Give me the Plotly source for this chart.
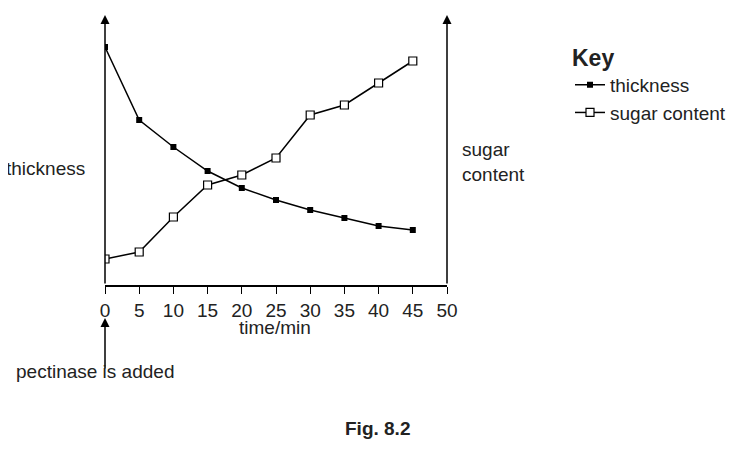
import plotly.graph_objects as go

time = [0, 5, 10, 15, 20, 25, 30, 35, 40, 45]
thickness = [238, 165, 138, 114, 97, 85, 75, 67, 59, 55]
sugar = [26, 33, 68, 100, 110, 127, 170, 180, 202, 224]
xticks = [0, 5, 10, 15, 20, 25, 30, 35, 40, 45, 50]

D = 8  # page body offset
L, R, T, B = 105 - D, 447 - D, 15 - D, 285 - D
W, H = 745, 472
def px(x): return (x - D - L) / (R - L)
def py(y): return (B - (y - D)) / (B - T)

fig = go.Figure()
fig.add_trace(go.Scatter(x=time, y=thickness, name="thickness", mode="lines+markers",
    line=dict(color="black", width=1.5), marker=dict(symbol="square", size=6, color="black")))
fig.add_trace(go.Scatter(x=time, y=sugar, name="sugar content", mode="lines+markers",
    line=dict(color="black", width=1.5),
    marker=dict(symbol="square", size=8, color="white", line=dict(color="black", width=1.2))))

font = dict(family="Liberation Sans, Arial", size=19, color="#222")
ann = []
for xv in (0, 50):
    ann.append(dict(x=xv, y=270, xref="x", yref="y", ax=0, ay=270, showarrow=True,
                    arrowhead=2, arrowsize=1.2, arrowwidth=1.5, arrowcolor="black", text=""))
ann.append(dict(x=px(105), y=py(318), xref="paper", yref="paper", ax=0, ay=52, showarrow=True,
                arrowhead=2, arrowsize=1.2, arrowwidth=1.5, arrowcolor="black", text=""))
def txt(t, x, y, **k):
    ann.append(dict(text=t, x=px(x), y=py(y), xref="paper", yref="paper", showarrow=False,
                    font=font, **k))
txt("thickness", 4, 168, xanchor="left")
txt("sugar<br>content", 460, 162, xanchor="left", align="left")
txt("time/min", 275, 340)
txt("pectinase is added", 14, 384, xanchor="left")
txt("<b>Fig. 8.2</b>", 412, 441)
fig.update_layout(annotations=ann)

fig.update_layout(
    width=W, height=H, margin=dict(l=L, r=W - R, t=T, b=H - B),
    paper_bgcolor="white", plot_bgcolor="white", font=font,
    xaxis=dict(range=[0, 50], tickvals=xticks, showline=True, linecolor="black", linewidth=1.5,
               ticks="outside", ticklen=7, tickcolor="black", showgrid=False, zeroline=False),
    yaxis=dict(range=[0, 270], showticklabels=False, showgrid=False, zeroline=False, showline=False),
    legend=dict(x=px(570), y=py(36), xref="paper", yref="paper", xanchor="left", yanchor="top",
                title=dict(text="<b>Key</b>", side="top"), font=font, itemwidth=30,
                tracegroupgap=0, bgcolor="rgba(0,0,0,0)"),
)
fig.write_html("out.html")
